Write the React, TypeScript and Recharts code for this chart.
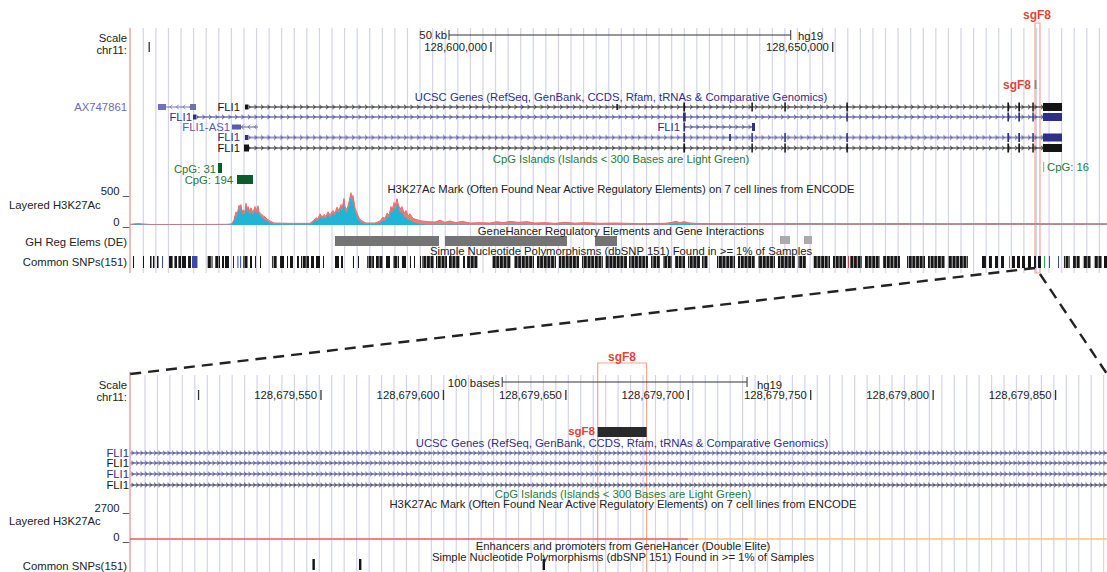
import React from "react";
import {
  ComposedChart,
  XAxis,
  YAxis,
  Area,
  Line,
  ReferenceArea,
  ReferenceLine,
} from "recharts";

const W = 1107;
const H = 572;
const PLOT_LEFT = 130;
const FONT = "'Liberation Sans', Arial, Helvetica, sans-serif";

const NAVY = "#2f2f8a";
const BLACK = "#141414";
const GREEN = "#2b7a36";
const SG_RED = "#e3443a";
const SG_BOX = "#f3a58c";
const GRID = "#d3d3ec";
const BORDER = "#f2a0a0";

// chr11 (hg19) windows
const TOP_VIEW: [number, number] = [128547190, 128690130];
const BOT_VIEW: [number, number] = [128679472, 128679871];
const SG_F8: [number, number] = [128679663, 128679683];

// rulers
const topTicks = [128550000, 128600000, 128650000];
const topTickLabels = ["", "128,600,000", "128,650,000"];
const topScaleBar = [128593860, 128643860]; // 50 kb
const botTicks = [128679500, 128679550, 128679600, 128679650, 128679700, 128679750, 128679800, 128679850];
const botTickLabels = ["", "128,679,550", "128,679,600", "128,679,650", "128,679,700", "128,679,750", "128,679,800", "128,679,850"];
const botScaleBar = [128679624, 128679724]; // 100 bases

// positions below are kb past chr11:128,000,000
const kb = (v: number) => 128000000 + v * 1000;

// Layered H3K27Ac, top window
const h3kPosKb = [
  547.19, 548.36, 549.09, 550.12, 557.43, 561.53,
  562.11, 562.41, 562.7, 562.85, 563.14, 563.28, 563.43, 563.58, 563.72, 564.01,
  564.16, 564.31, 564.45, 564.75, 564.89, 565.18, 565.48, 565.62, 565.92, 566.06,
  566.36, 566.65, 566.94, 567.23, 567.67, 568.26,
  570.6, 573.52, 573.96, 574.4, 574.69, 574.99, 575.28, 575.57, 575.86, 576.16,
  576.45, 576.89, 577.18, 577.47, 577.77, 578.06, 578.21, 578.5, 578.64, 578.94,
  579.23, 579.52, 579.67, 579.81, 580.11, 580.4, 580.69, 581.13, 581.72,
  583.04, 583.77, 584.2, 584.5, 584.79, 585.08, 585.38, 585.52, 585.82, 585.96,
  586.26, 586.4, 586.69, 586.98, 587.28, 587.57, 587.86, 588.15, 588.59, 589.18,
  589.91, 590.79, 591.81, 592.54, 593.27, 594.01, 594.88, 595.76, 596.93, 598.4,
  599.86, 600.88, 601.76, 602.78, 603.95, 605.27, 606.44, 607.9, 609.37, 610.83,
  612.3, 613.76, 615.95, 618.15, 621.8, 625.46, 626.48, 627.07, 627.65, 628.24,
  629.11, 630.58, 637.9, 645.21, 652.53, 659.84, 667.16, 674.47, 681.79, 690.13,
];
const h3kRed = [
  10, 22, 15, 8, 8, 10,
  20, 80, 200, 150, 300, 250, 310, 180, 230, 200,
  330, 220, 280, 200, 260, 190, 280, 210, 290, 200,
  170, 140, 120, 90, 60, 30,
  25, 25, 60, 110, 90, 170, 120, 160, 130, 200,
  150, 220, 180, 270, 220, 310, 250, 400, 280, 230,
  350, 490, 380, 450, 260, 180, 110, 60, 30,
  30, 60, 120, 100, 180, 150, 280, 220, 340, 280,
  400, 330, 240, 280, 180, 220, 140, 170, 100, 80,
  60, 50, 45, 70, 40, 60, 35, 55, 30, 35,
  30, 50, 35, 55, 40, 50, 30, 35, 25, 40,
  28, 35, 25, 30, 20, 25, 40, 55, 35, 50,
  30, 22, 20, 22, 20, 22, 20, 22, 20, 20,
];
const h3kCyan = [
  5, 10, 6, 4, 4, 5,
  10, 50, 150, 110, 260, 210, 270, 140, 190, 160,
  290, 180, 230, 160, 210, 150, 230, 170, 230, 160,
  130, 100, 80, 60, 35, 15,
  10, 10, 40, 80, 60, 130, 90, 120, 100, 160,
  110, 180, 140, 220, 180, 270, 210, 350, 230, 180,
  300, 440, 330, 400, 210, 130, 70, 35, 15,
  15, 30, 70, 60, 130, 110, 220, 170, 280, 220,
  320, 300, 180, 200, 120, 120, 70, 80, 40, 25,
  12, 8, 8, 10, 8, 10, 6, 8, 5, 5,
  5, 8, 5, 10, 6, 8, 5, 5, 4, 6,
  4, 5, 4, 5, 4, 5, 15, 30, 15, 25,
  10, 4, 4, 4, 4, 4, 4, 4, 4, 4,
];
const h3kTop = h3kPosKb.map((p, i) => ({ pos: kb(p), red: h3kRed[i], cyan: h3kCyan[i] }));

// Layered H3K27Ac, bottom window: flat at zero
const h3kBotRed = [
  { pos: BOT_VIEW[0], v: 0 },
  { pos: 128679700, v: 0 },
];
const h3kBotOrange = [
  { pos: 128679700, v: 0 },
  { pos: BOT_VIEW[1], v: 0 },
];

// UCSC genes, top window; exon = [start, end, half-height]
type Tx = { row: number; color: string; strand: 1 | -1; span: [number, number]; exons: number[][] };
const topRows = [107, 117, 127, 137.5, 148];
const topTx: Tx[] = [
  { row: 0, color: "#7070b8", strand: -1, span: [551.29, 556.85], exons: [[551.29, 552.46, 3], [555.97, 556.85, 3]] },
  {
    row: 0, color: BLACK, strand: 1, span: [564.01, 683.54],
    exons: [[564.01, 564.45, 2.5], [618.35, 618.57, 3], [628.15, 628.4, 4.5], [638.1, 638.32, 4.5], [642.92, 643.14, 4.5],
      [652.0, 652.22, 4.5], [675.55, 675.8, 4.5], [677.15, 677.4, 4.5], [679.2, 679.42, 4.5], [680.76, 683.54, 4]],
  },
  {
    row: 1, color: NAVY, strand: 1, span: [556.41, 683.54],
    exons: [[556.41, 556.85, 2.5], [628.1, 628.5, 4.5], [652.0, 652.22, 4.5], [675.55, 675.8, 4.5], [677.15, 677.4, 4.5],
      [679.2, 679.42, 4.5], [680.76, 683.54, 4]],
  },
  { row: 2, color: "#5a5aaa", strand: -1, span: [562.11, 565.92], exons: [[562.11, 563.43, 2.5]] },
  { row: 2, color: NAVY, strand: 1, span: [628.24, 638.63], exons: [[628.15, 628.4, 4.5], [638.19, 638.63, 4]] },
  {
    row: 3, color: NAVY, strand: 1, span: [564.01, 683.54],
    exons: [[564.01, 564.45, 2.5], [628.15, 628.4, 4.5], [634.85, 635.1, 3.5], [638.1, 638.32, 4.5], [642.92, 643.14, 4.5],
      [652.0, 652.22, 4.5], [675.55, 675.8, 4.5], [677.15, 677.4, 4.5], [679.2, 679.42, 4.5], [680.76, 683.54, 4]],
  },
  {
    row: 4, color: BLACK, strand: 1, span: [563.87, 683.54],
    exons: [[563.87, 564.6, 3.5], [628.15, 628.4, 4.5], [638.1, 638.32, 4.5], [642.92, 643.14, 4.5], [652.0, 652.22, 4.5],
      [675.55, 675.8, 4.5], [677.15, 677.4, 4.5], [679.2, 679.42, 4.5], [680.76, 683.54, 4]],
  },
];
// bottom window: four FLI1 introns across the whole window
const botRows = [453, 463, 474, 485];
const botTxColors = [NAVY, NAVY, NAVY, "#22224a"];

// CpG islands
const cpgTop = [
  { kb: [560.06, 560.65], y: [163, 173], fill: "#0b5d2b" },
  { kb: [562.84, 565.19], y: [175, 184], fill: "#0b5d2b" },
  { kb: [680.76, 680.95], y: [162, 172], fill: "#7bd27b" },
];

// GeneHancer elements
const ghTop = [[577.18, 592.4], [593.27, 611.12], [615.22, 618.44]];
const ghTopLight = [[642.29, 643.75], [645.8, 646.97]];

// Common SNPs
const snpTop = [
  [547.63, 547.78], [549.09, 549.24], [550.12, 550.34], [550.55, 550.77], [551.14, 551.36],
  [552.9, 553.42], [553.69, 554.07], [554.27, 554.65], [554.8, 555.38], [555.68, 556.11],
  [558.45, 559.27], [559.63, 560.36], [560.65, 560.94], [561.09, 561.67], [562.26, 562.4],
  [563.72, 564.45], [564.75, 565.04], [565.48, 565.62], [566.21, 566.36],
  [567.96, 568.7], [569.14, 569.72], [570.16, 570.31], [570.6, 571.04], [571.62, 571.91],
  [572.21, 573.38], [573.67, 574.11], [574.4, 574.99], [575.43, 575.57],
  [577.18, 577.77], [578.06, 578.35], [579.81, 579.96], [580.55, 580.69],
  [581.86, 582.89], [583.18, 584.2], [584.64, 585.23], [585.67, 586.54], [586.98, 587.57],
  [588.15, 588.3], [588.74, 588.89], [589.62, 589.77],
  [589.91, 591.67], [591.96, 593.57], [593.86, 595.47], [595.91, 596.2], [596.49, 598.1],
  [600.15, 602.93], [603.37, 606.3], [606.73, 609.51], [609.95, 612.88], [613.32, 616.39], [616.68, 619.9], [620.19, 622.97],
  [623.41, 624.73], [625.17, 626.48], [626.92, 628.39], [628.83, 630.58], [630.87, 631.75],
  [633.07, 635.7], [636.14, 638.63], [639.07, 641.55], [641.99, 644.48], [644.92, 646.09],
  [647.11, 649.6], [650.04, 651.94], [652.53, 654.28], [654.72, 656.92], [657.35, 659.84],
  [660.87, 663.5], [663.94, 666.42], [666.86, 669.79],
  [671.84, 672.42], [672.86, 673.3], [673.74, 674.18], [674.62, 675.06],
  [676.23, 676.67], [676.96, 677.4], [677.69, 678.13], [678.57, 679.01], [679.45, 679.74], [680.03, 680.47],
  [683.83, 684.71], [685.15, 686.18], [686.61, 687.78], [688.22, 689.39], [689.69, 690.13],
];
const snpTopBlue = [[551.87, 552.02], [556.26, 557.06], [562.9, 563.05], [563.3, 563.45], [681.64, 681.79], [682.96, 683.11]];
const snpTopGreen = [[675.79, 675.94], [680.91, 681.06]];
const snpTopRed = [[652.23, 652.37]];
const snpBot = [128679547, 128679566, 128679641];

// layout-only guidelines (pixel offsets from plot left)
const gridTop = Array.from({ length: 77 }, (_, i) => 13.3 + i * 12.58);
const gridBot = Array.from({ length: 78 }, (_, i) => 15 + i * 12.45);

const Txt = ({
  x, y, a = "start", c = "#222", b = false, s = 11.3, children,
}: { x: number; y: number; a?: string; c?: string; b?: boolean; s?: number; children: React.ReactNode }) => (
  <div
    style={{
      position: "absolute",
      left: x,
      top: y,
      transform: `translate(${a === "end" ? "-100%" : a === "middle" ? "-50%" : "0"}, -50%)`,
      color: c,
      fontWeight: b ? "bold" : "normal",
      fontSize: s,
      lineHeight: 0.9,
      whiteSpace: "nowrap",
    }}
  >
    {children}
  </div>
);

const chevId = (panel: string, i: number) => `chev-${panel}-${i}`;

const ChevPattern = ({ id, y, color, strand, step }: { id: string; y: number; color: string; strand: number; step: number }) => (
  <pattern id={id} patternUnits="userSpaceOnUse" x={0} y={y - 4} width={step} height={8}>
    <line x1={0} y1={4} x2={step} y2={4} stroke={color} strokeWidth={1} />
    <polyline
      points={strand > 0 ? "1,1.8 3.2,4 1,6.2" : "3.2,1.8 1,4 3.2,6.2"}
      fill="none"
      stroke={color}
      strokeWidth={0.9}
    />
  </pattern>
);

const App: React.FC = () => {
  return (
    <div style={{ position: "absolute", left: 0, top: 0, width: W, height: H, background: "#fff", fontFamily: FONT, overflow: "hidden" }}>
      <svg width={0} height={0} style={{ position: "absolute" }}>
        <defs>
          {topTx.map((t, i) => (
            <ChevPattern key={i} id={chevId("t", i)} y={topRows[t.row]} color={t.color} strand={t.strand} step={6.5} />
          ))}
          {botRows.map((r, i) => (
            <ChevPattern key={i} id={chevId("b", i)} y={r} color={botTxColors[i]} strand={1} step={4.5} />
          ))}
          {/* dense SNP runs: ticks with hairline gaps */}
          <pattern id="snp-run" patternUnits="userSpaceOnUse" x={0} y={0} width={7.3} height={20}>
            <rect x={0} y={0} width={2.7} height={20} fill="#161616" />
            <rect x={3.4} y={0} width={3.3} height={20} fill="#161616" />
          </pattern>
        </defs>
      </svg>

      <div style={{ position: "absolute", left: 0, top: 0 }}>
        <ComposedChart width={W} height={H} margin={{ top: 0, right: 0, bottom: 0, left: PLOT_LEFT }}>
          <XAxis xAxisId="top" type="number" dataKey="pos" domain={TOP_VIEW} allowDataOverflow hide />
          <XAxis xAxisId="bot" type="number" dataKey="pos" domain={BOT_VIEW} allowDataOverflow hide />
          <XAxis xAxisId="grid" type="number" dataKey="pos" domain={[0, W - PLOT_LEFT]} allowDataOverflow hide />
          <YAxis yAxisId="row" type="number" domain={[0, H]} reversed allowDataOverflow hide />
          <YAxis yAxisId="sigT" type="number" domain={[-5258, 3409]} allowDataOverflow hide />
          <YAxis yAxisId="sigB" type="number" domain={[-2874, 46947]} allowDataOverflow hide />

          {/* guidelines (thin areas so they stay under the tracks) */}
          {gridTop.map((g) => (
            <ReferenceArea key={`gt${g}`} xAxisId="grid" yAxisId="row" x1={g - 0.6} x2={g + 0.6} y1={28} y2={273} fill={GRID} fillOpacity={1} />
          ))}
          {gridBot.map((g) => (
            <ReferenceArea key={`gb${g}`} xAxisId="grid" yAxisId="row" x1={g - 0.6} x2={g + 0.6} y1={375} y2={572} fill={GRID} fillOpacity={1} />
          ))}

          {/* panel borders */}
          <ReferenceLine xAxisId="top" yAxisId="row" ifOverflow="visible" segment={[{ x: TOP_VIEW[0], y: 28 }, { x: TOP_VIEW[0], y: 273 }]} stroke={BORDER} strokeWidth={1.5} />
          <ReferenceLine xAxisId="bot" yAxisId="row" ifOverflow="visible" segment={[{ x: BOT_VIEW[0], y: 372 }, { x: BOT_VIEW[0], y: 572 }]} stroke={BORDER} strokeWidth={1.5} />

          {/* top ruler */}
          {topTicks.map((t, i) => (
            <ReferenceLine
              key={`tt${t}`}
              xAxisId="top"
              yAxisId="row"
              segment={[{ x: t, y: 42 }, { x: t, y: 52 }]}
              stroke="#333"
              strokeWidth={1.3}
              label={{ value: topTickLabels[i], position: "left", offset: 4, fill: "#222", fontSize: 11.3 }}
            />
          ))}
          <ReferenceLine xAxisId="top" yAxisId="row" segment={[{ x: topScaleBar[0], y: 35 }, { x: topScaleBar[1], y: 35 }]} stroke="#333" strokeWidth={1} />
          {topScaleBar.map((t) => (
            <ReferenceLine key={`ts${t}`} xAxisId="top" yAxisId="row" segment={[{ x: t, y: 30 }, { x: t, y: 40 }]} stroke="#333" strokeWidth={1} />
          ))}

          {/* bottom ruler */}
          {botTicks.map((t, i) => (
            <ReferenceLine
              key={`bt${t}`}
              xAxisId="bot"
              yAxisId="row"
              segment={[{ x: t, y: 390 }, { x: t, y: 400 }]}
              stroke="#333"
              strokeWidth={1.3}
              label={{ value: botTickLabels[i], position: "left", offset: 4, fill: "#222", fontSize: 11.3 }}
            />
          ))}
          <ReferenceLine xAxisId="bot" yAxisId="row" segment={[{ x: botScaleBar[0], y: 382 }, { x: botScaleBar[1], y: 382 }]} stroke="#333" strokeWidth={1} />
          {botScaleBar.map((t) => (
            <ReferenceLine key={`bs${t}`} xAxisId="bot" yAxisId="row" segment={[{ x: t, y: 377 }, { x: t, y: 387 }]} stroke="#333" strokeWidth={1} />
          ))}

          {/* sgF8 highlight boxes and track items */}
          <ReferenceArea xAxisId="top" yAxisId="row" x1={SG_F8[0] - 60} x2={SG_F8[1] + 640} y1={23} y2={273} fill="none" fillOpacity={0} stroke={SG_BOX} strokeWidth={1.2} />
          <ReferenceArea xAxisId="top" yAxisId="row" x1={SG_F8[0] - 120} x2={SG_F8[1] + 120} y1={80} y2={89} fill="#8a8a8a" fillOpacity={1} />
          <ReferenceArea xAxisId="bot" yAxisId="row" x1={SG_F8[0]} x2={SG_F8[1]} y1={363} y2={580} ifOverflow="visible" fill="none" fillOpacity={0} stroke={SG_BOX} strokeWidth={1.2} />
          <ReferenceArea xAxisId="bot" yAxisId="row" x1={SG_F8[0]} x2={SG_F8[1]} y1={427} y2={437} fill="#2a2a2a" fillOpacity={1} />

          {/* genes, top */}
          {topTx.map((t, i) => (
            <ReferenceArea
              key={`tl${i}`}
              xAxisId="top"
              yAxisId="row"
              x1={kb(t.span[0])}
              x2={kb(t.span[1])}
              y1={topRows[t.row] - 4}
              y2={topRows[t.row] + 4}
              fill={`url(#${chevId("t", i)})`}
              fillOpacity={1}
            />
          ))}
          {topTx.flatMap((t, i) =>
            t.exons.map((e, j) => (
              <ReferenceArea
                key={`te${i}-${j}`}
                xAxisId="top"
                yAxisId="row"
                x1={kb(e[0])}
                x2={kb(e[1])}
                y1={topRows[t.row] - e[2]}
                y2={topRows[t.row] + e[2]}
                fill={t.color}
                fillOpacity={1}
              />
            ))
          )}

          {/* genes, bottom */}
          {botRows.map((r, i) => (
            <ReferenceArea
              key={`bl${i}`}
              xAxisId="bot"
              yAxisId="row"
              x1={BOT_VIEW[0]}
              x2={BOT_VIEW[1]}
              y1={r - 4}
              y2={r + 4}
              fill={`url(#${chevId("b", i)})`}
              fillOpacity={1}
            />
          ))}

          {/* CpG islands */}
          {cpgTop.map((c, i) => (
            <ReferenceArea key={`cpg${i}`} xAxisId="top" yAxisId="row" x1={kb(c.kb[0])} x2={kb(c.kb[1])} y1={c.y[0]} y2={c.y[1]} fill={c.fill} fillOpacity={1} />
          ))}

          {/* H3K27Ac */}
          <Area xAxisId="top" yAxisId="sigT" data={h3kTop} dataKey="red" type="linear" baseValue={0} stroke="#ef6b68" strokeWidth={1} fill="#f07a76" fillOpacity={1} dot={false} activeDot={false} isAnimationActive={false} />
          <Area xAxisId="top" yAxisId="sigT" data={h3kTop} dataKey="cyan" type="linear" baseValue={0} stroke="none" fill="#21b4d6" fillOpacity={1} dot={false} activeDot={false} isAnimationActive={false} />
          <Line xAxisId="bot" yAxisId="sigB" data={h3kBotRed} dataKey="v" type="linear" stroke="#ef5a5a" strokeWidth={1.6} dot={false} activeDot={false} isAnimationActive={false} />
          <Line xAxisId="bot" yAxisId="sigB" data={h3kBotOrange} dataKey="v" type="linear" stroke="#f6c27a" strokeWidth={1.6} dot={false} activeDot={false} isAnimationActive={false} />

          {/* GeneHancer */}
          {ghTop.map((g, i) => (
            <ReferenceArea key={`gh${i}`} xAxisId="top" yAxisId="row" x1={kb(g[0])} x2={kb(g[1])} y1={236} y2={246} fill="#747474" fillOpacity={1} />
          ))}
          {ghTopLight.map((g, i) => (
            <ReferenceArea key={`ghl${i}`} xAxisId="top" yAxisId="row" x1={kb(g[0])} x2={kb(g[1])} y1={236} y2={244} fill="#ababab" fillOpacity={1} />
          ))}

          {/* SNPs */}
          {snpTop.map((s, i) => (
            <ReferenceArea
              key={`snp${i}`}
              xAxisId="top"
              yAxisId="row"
              x1={kb(s[0])}
              x2={kb(s[1])}
              y1={256}
              y2={268}
              fill={s[1] - s[0] > 0.7 ? "url(#snp-run)" : "#161616"}
              fillOpacity={1}
            />
          ))}
          {snpTopBlue.map((s, i) => (
            <ReferenceArea key={`snpb${i}`} xAxisId="top" yAxisId="row" x1={kb(s[0])} x2={kb(s[1])} y1={256} y2={268} fill="#3a4aa8" fillOpacity={1} />
          ))}
          {snpTopGreen.map((s, i) => (
            <ReferenceArea key={`snpg${i}`} xAxisId="top" yAxisId="row" x1={kb(s[0])} x2={kb(s[1])} y1={256} y2={268} fill="#22b04a" fillOpacity={1} />
          ))}
          {snpTopRed.map((s, i) => (
            <ReferenceArea key={`snpr${i}`} xAxisId="top" yAxisId="row" x1={kb(s[0])} x2={kb(s[1])} y1={256} y2={268} fill="#d83030" fillOpacity={1} />
          ))}
          {snpBot.map((s) => (
            <ReferenceArea key={`snpbot${s}`} xAxisId="bot" yAxisId="row" x1={s - 0.5} x2={s + 0.5} y1={559} y2={570} fill="#161616" fillOpacity={1} />
          ))}

          {/* zoom connectors */}
          <ReferenceLine xAxisId="top" yAxisId="row" ifOverflow="visible" segment={[{ x: SG_F8[0] - 60, y: 268 }, { x: TOP_VIEW[0], y: 374 }]} stroke="#222" strokeWidth={2.4} strokeDasharray="11 7" />
          <ReferenceLine xAxisId="top" yAxisId="row" ifOverflow="visible" segment={[{ x: SG_F8[1] + 640, y: 274 }, { x: TOP_VIEW[1], y: 374 }]} stroke="#222" strokeWidth={2.4} strokeDasharray="11 7" />
        </ComposedChart>
      </div>

      {/* ---- top panel text ---- */}
      <Txt x={1037} y={15} a="middle" c={SG_RED} b s={12}>sgF8</Txt>
      <Txt x={127} y={38} a="end">Scale</Txt>
      <Txt x={127} y={50} a="end">chr11:</Txt>
      <Txt x={447} y={35} a="end">50 kb</Txt>
      <Txt x={798} y={36}>hg19</Txt>
      <Txt x={1031} y={85} a="end" c={SG_RED} b s={12}>sgF8</Txt>
      <Txt x={621} y={97} a="middle" c={NAVY}>UCSC Genes (RefSeq, GenBank, CCDS, Rfam, tRNAs &amp; Comparative Genomics)</Txt>
      <Txt x={127} y={107} a="end" c="#6c6cb4">AX747861</Txt>
      <Txt x={240} y={107} a="end" c={BLACK}>FLI1</Txt>
      <Txt x={192} y={117} a="end" c={NAVY}>FLI1</Txt>
      <Txt x={230} y={127} a="end" c="#5a5aaa">FLI1-AS1</Txt>
      <Txt x={680} y={127} a="end" c={NAVY}>FLI1</Txt>
      <Txt x={240} y={137} a="end" c={NAVY}>FLI1</Txt>
      <Txt x={240} y={148} a="end" c={BLACK}>FLI1</Txt>
      <Txt x={621} y={159} a="middle" c={GREEN}>CpG Islands (Islands &lt; 300 Bases are Light Green)</Txt>
      <Txt x={216} y={169} a="end" c={GREEN}>CpG: 31</Txt>
      <Txt x={233} y={180} a="end" c={GREEN}>CpG: 194</Txt>
      <Txt x={1047} y={167} c={GREEN}>CpG: 16</Txt>
      <Txt x={129} y={191} a="end">500 _</Txt>
      <Txt x={621} y={189} a="middle">H3K27Ac Mark (Often Found Near Active Regulatory Elements) on 7 cell lines from ENCODE</Txt>
      <Txt x={9} y={205}>Layered H3K27Ac</Txt>
      <Txt x={129} y={222} a="end">0 _</Txt>
      <Txt x={621} y={231} a="middle">GeneHancer Regulatory Elements and Gene Interactions</Txt>
      <Txt x={127} y={242} a="end">GH Reg Elems (DE)</Txt>
      <Txt x={621} y={251} a="middle">Simple Nucleotide Polymorphisms (dbSNP 151) Found in &gt;= 1% of Samples</Txt>
      <Txt x={127} y={262} a="end">Common SNPs(151)</Txt>

      {/* ---- bottom panel text ---- */}
      <Txt x={622} y={357} a="middle" c={SG_RED} b s={12}>sgF8</Txt>
      <Txt x={127} y={385} a="end">Scale</Txt>
      <Txt x={127} y={397} a="end">chr11:</Txt>
      <Txt x={500} y={383} a="end">100 bases</Txt>
      <Txt x={757} y={385}>hg19</Txt>
      <Txt x={595} y={431} a="end" c={SG_RED} b s={11.5}>sgF8</Txt>
      <Txt x={622} y={443} a="middle" c={NAVY}>UCSC Genes (RefSeq, GenBank, CCDS, Rfam, tRNAs &amp; Comparative Genomics)</Txt>
      <Txt x={129} y={453} a="end" c={NAVY}>FLI1</Txt>
      <Txt x={129} y={463} a="end" c={BLACK}>FLI1</Txt>
      <Txt x={129} y={474} a="end" c={NAVY}>FLI1</Txt>
      <Txt x={129} y={485} a="end" c={BLACK}>FLI1</Txt>
      <Txt x={623} y={494} a="middle" c={GREEN}>CpG Islands (Islands &lt; 300 Bases are Light Green)</Txt>
      <Txt x={623} y={504} a="middle">H3K27Ac Mark (Often Found Near Active Regulatory Elements) on 7 cell lines from ENCODE</Txt>
      <Txt x={129} y={508} a="end">2700 _</Txt>
      <Txt x={9} y={521}>Layered H3K27Ac</Txt>
      <Txt x={129} y={537} a="end">0 _</Txt>
      <Txt x={623} y={546} a="middle">Enhancers and promoters from GeneHancer (Double Elite)</Txt>
      <Txt x={623} y={557} a="middle">Simple Nucleotide Polymorphisms (dbSNP 151) Found in &gt;= 1% of Samples</Txt>
      <Txt x={127} y={566} a="end">Common SNPs(151)</Txt>
    </div>
  );
};

export default App;
